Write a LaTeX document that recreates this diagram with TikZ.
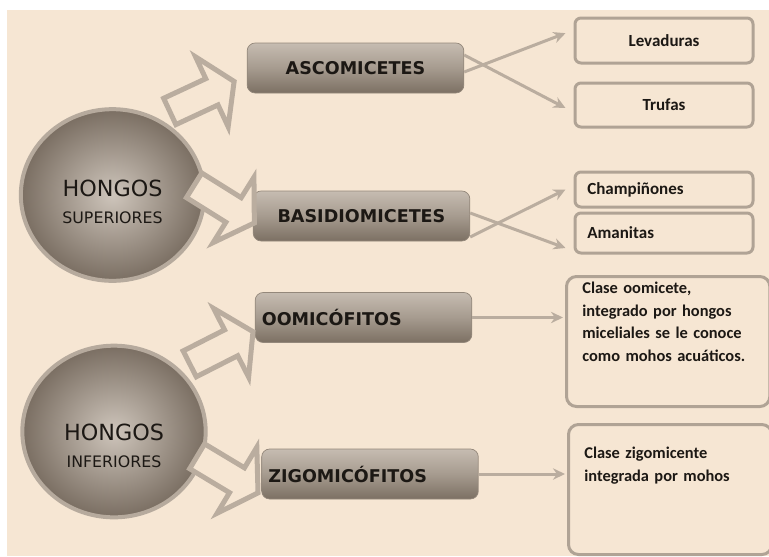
\documentclass[tikz,border=0pt]{standalone}
\usepackage{fontspec}
\setmainfont{Carlito}
\newfontfamily\catfont{DejaVu Sans}
\usetikzlibrary{shapes.geometric, shapes.arrows, arrows.meta, positioning, calc, backgrounds}
\definecolor{bgBeige}{RGB}{246, 230, 211}
\definecolor{arrowGray}{RGB}{186, 173, 159}
\definecolor{boxEdge}{RGB}{176, 163, 149}
\definecolor{catTop}{RGB}{198, 188, 177}
\definecolor{catMid}{RGB}{166, 155, 143}
\definecolor{catBottom}{RGB}{124, 112, 99}
\definecolor{catEdge}{RGB}{148, 136, 123}
\definecolor{ballInner}{RGB}{206, 197, 187}
\definecolor{ballOuter}{RGB}{122, 110, 98}
\definecolor{ballEdge}{RGB}{182, 170, 157}
\definecolor{inkDark}{RGB}{28, 24, 20}

\begin{document}
\begin{tikzpicture}[
    x=0.03cm, y=-0.03cm,
    ball/.style={ellipse, draw=ballEdge, line width=1.2mm, inner color=ballInner, outer color=ballOuter, minimum width=5.5cm, minimum height=5.15cm},
    balltext/.style={align=center, text=inkDark, font=\catfont\fontsize{13.5}{23}\selectfont},
    catbox/.style={rectangle, draw=catEdge, line width=0.6pt, rounded corners=2.4mm, top color=catTop, bottom color=catBottom, middle color=catMid, minimum width=6.5cm, minimum height=1.5cm, font=\catfont\bfseries\fontsize{15}{18}\selectfont, text=inkDark},
    catleft/.style={text width=6.1cm, inner xsep=0.2cm, align=left},
    leafbox/.style={rectangle, draw=boxEdge, line width=0.9mm, rounded corners=1.8mm, fill=bgBeige, text width=4.6cm, inner xsep=0.37cm, inner ysep=0pt, font=\bfseries\fontsize{14.5}{17}\selectfont, text=inkDark},
    notebox/.style={leafbox, rounded corners=3mm, text width=5.15cm, inner xsep=0.475cm, inner ysep=0.17cm, align=left, anchor=north west, font=\bfseries\fontsize{14}{19.5}\selectfont},
    blockarrow/.style={single arrow, draw=arrowGray, line width=1.5mm, fill=bgBeige, minimum height=2.13cm, inner xsep=0pt, inner ysep=0.36cm, single arrow head extend=0.72cm, single arrow tip angle=115, anchor=tail},
    arrow/.style={-{Stealth[length=3.6mm, width=3.4mm]}, line width=0.9mm, arrowGray}
]
    \useasboundingbox (0,0) rectangle (769,556);

    % Nodes
    \node[ball] (sup) at (112.5,195) {};
    \node[balltext] (supText) at ([yshift=-0.2cm]sup.center) {{\fontsize{19}{23}\selectfont HONGOS}\\ SUPERIORES};
    \node[ball] (inf) at (114,431.5) {};
    \node[balltext] (infText) at ([yshift=-0.44cm]inf.center) {{\fontsize{19}{23}\selectfont HONGOS}\\ INFERIORES};

    \node[catbox] (asco) at (355.5,68) {ASCOMICETES};
    \node[catbox] (basi) at (361.5,216) {BASIDIOMICETES};
    \node[catbox, catleft] (oomi) at (363.5,317.5) {OOMIC\'OFITOS};
    \node[catbox, catleft] (zigo) at (370,474) {ZIGOMIC\'OFITOS};

    \node[leafbox, align=center, minimum height=1.35cm] (lev) at (664,40.5) {Levaduras};
    \node[leafbox, align=center, minimum height=1.32cm] (truf) at (664,105) {Trufas};
    \node[leafbox, align=left, minimum height=1.05cm] (cham) at (664,189.5) {Champi\~nones};
    \node[leafbox, align=left, minimum height=1.2cm] (aman) at (664,233) {Amanitas};

    \node[notebox, text height=0.33cm, text depth=3.23cm] (oomiNote) at (565,275) {Clase oomicete,\\ integrado por hongos\\ miceliales se le conoce\\ como mohos acu\'aticos.};
    \node[notebox, text height=0.85cm, text depth=2.71cm] (zigoNote) at (567,423) {Clase zigomicente\\ integrada por mohos};

    % Block arrows
    \node[blockarrow, rotate=25] (supAsco) at (167.5,112.5) {};
    \node[blockarrow, rotate=-32] (supBasi) at (192,184) {};
    \node[blockarrow, rotate=27] (infOomi) at (187.5,365) {};
    \node[blockarrow, rotate=-31] (infZigo) at (195,455) {};

    % Connections
    \draw[arrow] ([yshift=-0.12cm]asco.east) -- ([xshift=-0.24cm, yshift=0.22cm]lev.west);
    \draw[arrow] ([yshift=0.39cm]asco.east) -- ([xshift=-0.24cm, yshift=-0.09cm]truf.west);
    \draw[arrow] ([yshift=-0.63cm]basi.east) -- ([xshift=-0.24cm]cham.west);
    \draw[arrow] ([yshift=0.09cm]basi.east) -- ([xshift=-0.24cm, yshift=-0.45cm]aman.west);
    \draw[arrow, shorten >=0.6mm] (oomi.east) -- (oomi.east -| oomiNote.west);
    \draw[arrow, shorten >=0.6mm] (zigo.east) -- (zigo.east -| zigoNote.west);

    % Background
    \begin{scope}[on background layer]
        \fill[bgBeige] (7,10) rectangle (769,556);
    \end{scope}
\end{tikzpicture}
\end{document}
